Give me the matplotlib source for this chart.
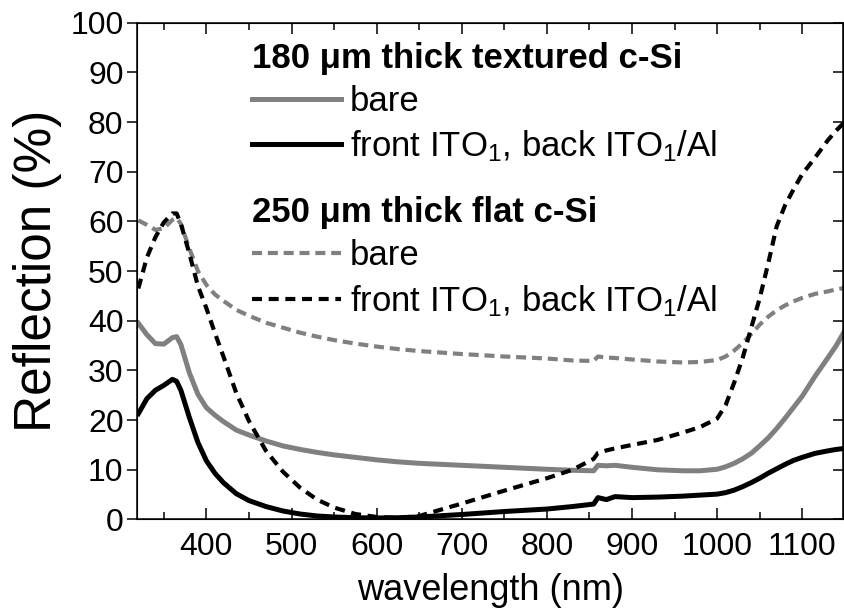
import matplotlib
matplotlib.use('Agg')
import matplotlib.pyplot as plt
from matplotlib.ticker import MultipleLocator

plt.rcParams['font.family'] = ['Liberation Sans', 'DejaVu Sans']
plt.rcParams['mathtext.default'] = 'regular'

# wavelength grid (nm) and reflection (%) for the four samples
wl = [320, 330, 340, 350, 360, 365, 370, 380, 390, 400, 410, 420, 435, 450,
      470, 490, 510, 530, 550, 575, 600, 625, 650, 700, 750, 800, 830, 855,
      860, 870, 880, 900, 930, 960, 980, 1000, 1010, 1020, 1030, 1040, 1050,
      1060, 1070, 1080, 1090, 1100, 1115, 1130, 1140, 1150]

tex_bare = [39.5, 37.2, 35.4, 35.3, 36.6, 36.8, 35.2, 29.5, 25.2, 22.5, 21.0,
            19.7, 18.0, 17.0, 15.8, 14.8, 14.1, 13.5, 13.0, 12.5, 12.0, 11.6,
            11.3, 10.9, 10.5, 10.1, 9.9, 9.8, 10.9, 10.8, 10.9, 10.5, 10.0,
            9.8, 9.8, 10.1, 10.6, 11.3, 12.2, 13.3, 14.8, 16.4, 18.3, 20.4,
            22.6, 24.8, 28.8, 32.5, 35.0, 38.0]

tex_ito = [21.3, 24.3, 26.0, 27.0, 28.2, 27.8, 26.0, 20.5, 15.5, 11.8, 9.3,
           7.4, 5.2, 3.8, 2.6, 1.7, 1.1, 0.7, 0.5, 0.35, 0.3, 0.35, 0.5, 1.0,
           1.6, 2.1, 2.6, 3.1, 4.4, 4.0, 4.6, 4.4, 4.5, 4.7, 4.9, 5.1, 5.4,
           5.9, 6.6, 7.4, 8.3, 9.3, 10.2, 11.1, 11.9, 12.5, 13.3, 13.8, 14.1,
           14.3]

flat_bare = [60.2, 59.3, 58.3, 58.6, 60.3, 60.7, 59.5, 54.5, 50.0, 47.2, 45.3,
             44.0, 42.2, 41.0, 39.6, 38.6, 37.6, 36.8, 36.1, 35.4, 34.8, 34.3,
             33.9, 33.3, 32.8, 32.4, 32.0, 31.9, 32.8, 32.6, 32.5, 32.2, 31.8,
             31.6, 31.7, 32.1, 32.8, 34.0, 35.5, 37.3, 39.2, 40.8, 42.1, 43.1,
             43.9, 44.6, 45.4, 45.9, 46.3, 46.6]

flat_ito = [46.5, 52.7, 56.8, 59.8, 61.6, 61.6, 59.5, 53.5, 47.0, 42.5, 37.5,
            32.8, 25.5, 19.8, 13.8, 9.6, 6.4, 4.0, 2.4, 1.1, 0.5, 0.3, 0.7,
            3.2, 5.8, 8.3, 10.0, 12.2, 13.4, 13.9, 14.3, 15.0, 16.0, 17.5,
            18.6, 20.3, 23.0, 27.5, 32.5, 38.5, 44.5, 51.5, 59.0, 63.3, 66.5,
            69.5, 72.8, 76.3, 78.3, 80.0]

ito_label = 'front ITO$_1$, back ITO$_1$/Al'

fig = plt.figure(figsize=(8.45, 6.12), dpi=100)
ax = fig.add_axes([0.1627, 0.1512, 0.8350, 0.8118])

gray = '#808080'
l1, = ax.plot(wl, tex_bare, color=gray, lw=3.6, label='bare')
l2, = ax.plot(wl, tex_ito, color='black', lw=3.6, label=ito_label)
l3, = ax.plot(wl, flat_bare, color=gray, lw=3.0, dashes=(2.4, 1.4), label='bare')
l4, = ax.plot(wl, flat_ito, color='black', lw=3.0, dashes=(2.4, 1.6), label=ito_label)

ax.set_xlim(319, 1148)
ax.set_ylim(0, 100)
ax.xaxis.set_major_locator(MultipleLocator(100))
ax.xaxis.set_minor_locator(MultipleLocator(50))
ax.yaxis.set_major_locator(MultipleLocator(10))
ax.tick_params(axis='x', which='both', direction='in', top=True, labelsize=23, pad=9)
ax.tick_params(axis='x', which='major', length=8, width=1.1)
ax.tick_params(axis='x', which='minor', length=5, width=1.1)
ax.tick_params(axis='y', which='major', direction='out', length=7, width=1.1,
               labelsize=23, pad=3)
for s in ax.spines.values():
    s.set_linewidth(1.1)

# inward ticks on the right spine
ax2 = ax.twinx()
ax2.set_ylim(ax.get_ylim())
ax2.yaxis.set_major_locator(MultipleLocator(10))
ax2.tick_params(axis='y', direction='in', length=7, width=1.1, labelright=False)

ax.set_xlabel('wavelength (nm)', fontsize=26, labelpad=8)
ax.set_ylabel('Reflection (%)', fontsize=37, labelpad=6)

leg_kw = dict(frameon=False, fontsize=25, handlelength=2.55, handletextpad=0.25,
              labelspacing=0.3, borderpad=0, borderaxespad=0, alignment='left',
              title_fontproperties={'weight': 'bold', 'size': 25})
leg1 = ax2.legend([l1, l2], ['bare', ito_label], title='180 μm thick textured c-Si',
                  loc='upper left', bbox_to_anchor=(0.163, 0.962), **leg_kw)
ax2.add_artist(leg1)
ax2.legend([l3, l4], ['bare', ito_label], title='250 μm thick flat c-Si',
           loc='upper left', bbox_to_anchor=(0.163, 0.651), **leg_kw)

fig.savefig('out.png', dpi=100)
